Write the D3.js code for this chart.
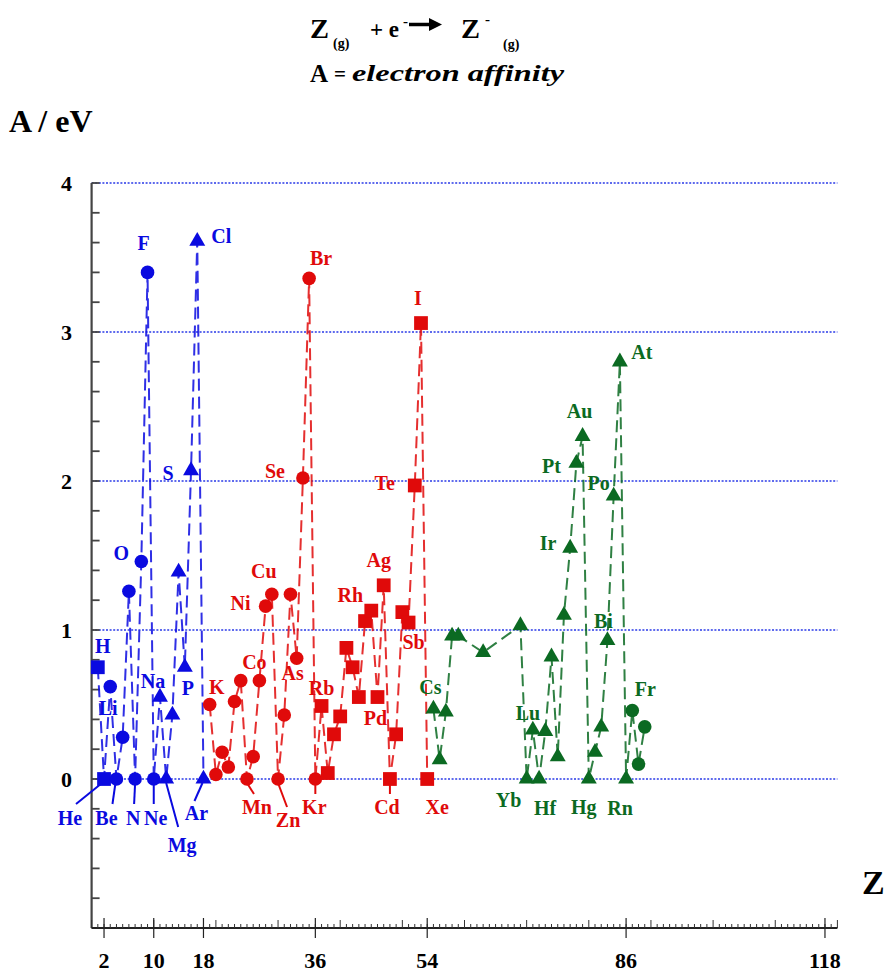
<!DOCTYPE html>
<html><head><meta charset="utf-8">
<script src="https://cdn.jsdelivr.net/npm/d3@7"></script>
<style>
body{margin:0;background:#fff}
svg{display:block}
text{font-family:"Liberation Serif","Times New Roman",serif;font-weight:bold}
</style>
</head><body>
<svg id="chart" width="890" height="972"></svg>
<script>
// Element symbols, Z = 1..89
const symbols = ["H","He","Li","Be","B","C","N","O","F","Ne","Na","Mg","Al","Si","P","S","Cl","Ar",
  "K","Ca","Sc","Ti","V","Cr","Mn","Fe","Co","Ni","Cu","Zn","Ga","Ge","As","Se","Br","Kr",
  "Rb","Sr","Y","Zr","Nb","Mo","Tc","Ru","Rh","Pd","Ag","Cd","In","Sn","Sb","Te","I","Xe",
  "Cs","Ba","La","Ce","Pr","Nd","Pm","Sm","Eu","Gd","Tb","Dy","Ho","Er","Tm","Yb","Lu","Hf",
  "Ta","W","Re","Os","Ir","Pt","Au","Hg","Tl","Pb","Bi","Po","At","Rn","Fr","Ra","Ac"];

// Periods 1-3
const zLight  = d3.range(1, 19);
const eaLight = [0.75,0,0.62,0,0.28,1.26,0,1.46,3.40,0,0.55,0,0.43,1.39,0.75,2.07,3.61,0];

// Periods 4-5
const zMiddle  = d3.range(19, 55);
const eaMiddle = [0.50,0.03,0.18,0.08,0.52,0.66,0,0.15,0.66,1.16,1.24,0,0.43,1.24,0.81,2.02,3.36,0,
                  0.49,0.04,0.30,0.42,0.88,0.75,0.55,1.06,1.13,0.55,1.30,0,0.30,1.12,1.05,1.97,3.06,0];

// Periods 6-7 (elements with known values)
const zHeavy  = [55,56,57,58,59,63,69,70,71,72,73,74,75,76,77,78,79,80,81,82,83,84,85,86,87,88,89];
const eaHeavy = [0.47,0.13,0.45,0.96,0.96,0.85,1.03,0,0.33,0,0.32,0.82,0.15,1.10,1.55,2.12,2.30,
                 0,0.18,0.35,0.93,1.90,2.80,0,0.46,0.10,0.35];

// Axis ticks
const xTickLabels = [2,10,18,36,54,86,118];
const yTickLabels = [0,1,2,3,4];

// Marker shape per period (1..7)
const periodEnds   = [2,10,18,36,54,86,118];
const periodShapes = ["square","circle","triangle","circle","square","triangle","circle"];

const series = [
  {z: zLight,  ea: eaLight,  color: "#0a0ae0"},
  {z: zMiddle, ea: eaMiddle, color: "#e00a0a"},
  {z: zHeavy,  ea: eaHeavy,  color: "#0b6a22"}
];

// Label placement: [dx, dy] from the marker, optional leader [x1,y1,x2,y2]
const labelLayout = {
  H:[5,-21], He:[-34,39,[-2,4,-28,25]], Li:[-2,21], Be:[-10,39,[-1,4,-4,25]], N:[-2,39,[0,4,-1,25]],
  O:[-20,-8], F:[-4,-29], Ne:[2,39,[0,4,0,25]], Na:[-7,-16], Mg:[16,66,[0,4,12,48]], P:[3,21],
  S:[-23,2], Cl:[24,-5], Ar:[-7,34,[-1,4,-9,22]],
  K:[7,-18], Mn:[10,28,[0,4,7,15]], Co:[-5,-19], Ni:[-25,-3], Cu:[-8,-23], Zn:[10,41,[0,4,9,28]],
  As:[-4,15], Se:[-28,-7], Br:[12,-20], Kr:[-1,28,[0,4,0,15]],
  Rb:[0,-18], Rh:[-21,-16], Pd:[-2,21], Ag:[-5,-25], Cd:[-3,28,[0,4,0,15]], Sb:[5,19],
  Te:[-30,-2], I:[-3,-25], Xe:[10,28],
  Cs:[-3,-22], Yb:[-18,21], Lu:[-5,-17], Hf:[6,29], Ir:[-22,-5], Pt:[-25,3], Au:[-3,-25],
  Hg:[-5,28], Bi:[-4,-19], Po:[-15,-13], At:[22,-10], Rn:[-6,29], Fr:[13,-21]
};

const svg = d3.select("#chart");
const x = d3.scaleLinear().domain([0,120]).range([91.6, 837.4]);
const y = d3.scaleLinear().domain([-1,4]).range([928, 183]);

// Reaction equation
const eq = svg.append("g").attr("fill", "#000");
const put = (tx, ty, size, str, extra) => {
  const t = eq.append("text").attr("x", tx).attr("y", ty).attr("font-size", size).text(str);
  if (extra) extra(t);
  return t;
};
put(310, 38, 27, "Z", t => t.attr("textLength", 19).attr("lengthAdjust","spacingAndGlyphs"));
put(333, 48, 14, "(g)");
put(370, 37, 23, "+ e");
put(403, 26, 15, "-");
eq.append("path").attr("d", "M409,24.5 H431").attr("stroke", "#000").attr("stroke-width", 3.5);
eq.append("path").attr("d", "M429,18 L442,24.5 L429,31 Z");
put(461, 38, 27, "Z", t => t.attr("textLength", 19).attr("lengthAdjust","spacingAndGlyphs"));
put(485, 24, 15, "-");
put(503, 49, 14, "(g)");
put(310, 82, 25, "A");
put(334, 81, 21, "=");
put(352, 81, 23, "electron affinity", t => t.attr("font-style","italic")
  .attr("textLength", 212).attr("lengthAdjust","spacingAndGlyphs"));

// Axis titles
svg.append("text").attr("x", 9).attr("y", 132).attr("font-size", 32).text("A / eV");
svg.append("text").attr("x", 862).attr("y", 894).attr("font-size", 34).text("Z");

// Horizontal grid lines
svg.append("g").selectAll("line").data(yTickLabels).join("line")
  .attr("x1", x(0)).attr("x2", x(120))
  .attr("y1", d => y(d)).attr("y2", d => y(d))
  .attr("stroke", "#2a3ae8").attr("stroke-width", 1.6).attr("stroke-dasharray", "2,1.6");

// Y axis
const yAxisG = svg.append("g").attr("transform", `translate(${x(0)},0)`);
yAxisG.append("line").attr("y1", y(4)).attr("y2", y(-1)).attr("stroke", "#444").attr("stroke-width", 2.2);
yAxisG.selectAll("line.minor").data(d3.range(-1, 4.001, 0.2)).join("line").attr("class","minor")
  .attr("x1", 0).attr("x2", 8).attr("y1", d => y(d)).attr("y2", d => y(d))
  .attr("stroke", "#444").attr("stroke-width", 1.8);
yAxisG.selectAll("text").data(yTickLabels).join("text")
  .attr("x", -25).attr("y", d => y(d)).attr("dy", "0.35em").attr("text-anchor","middle")
  .attr("font-size", 22).text(d => d);

// X axis
const xAxisG = svg.append("g").attr("transform", `translate(0,${y(-1)})`);
xAxisG.append("line").attr("x1", x(0)).attr("x2", x(120)).attr("stroke", "#222").attr("stroke-width", 2);
xAxisG.selectAll("line.minor").data(d3.range(0, 121, 1)).join("line").attr("class","minor")
  .attr("x1", d => x(d)).attr("x2", d => x(d))
  .attr("y1", 0).attr("y2", d => d % 10 === 0 ? -8 : -4)
  .attr("stroke", "#333").attr("stroke-width", 1);
xAxisG.selectAll("line.major").data(xTickLabels).join("line").attr("class","major")
  .attr("x1", d => x(d)).attr("x2", d => x(d)).attr("y1", -10).attr("y2", 10)
  .attr("stroke", "#222").attr("stroke-width", 1.2);
xAxisG.selectAll("text").data(xTickLabels).join("text")
  .attr("x", d => x(d)).attr("y", 40).attr("text-anchor","middle")
  .attr("font-size", 22).text(d => d);

// Connecting dashed lines
const line = d3.line().x(d => x(d[0])).y(d => y(d[1]));
series.forEach(s => {
  svg.append("path").datum(s.z.map((z,i) => [z, s.ea[i]]))
    .attr("d", line).attr("fill","none")
    .attr("stroke", s.color).attr("stroke-opacity", 0.85)
    .attr("stroke-width", 2).attr("stroke-dasharray", "12,6");
});

// Markers
const shapeOf = z => periodShapes[periodEnds.findIndex(e => z <= e)];
const symbolFor = {square: d3.symbolSquare, circle: d3.symbolCircle, triangle: d3.symbolTriangle};
const sizeFor = {square: 190, circle: 145, triangle: 110};
series.forEach(s => {
  svg.append("g").selectAll("path").data(s.z.map((z,i) => [z, s.ea[i]])).join("path")
    .attr("transform", d => `translate(${x(d[0])},${y(d[1])})`)
    .attr("d", d => d3.symbol().type(symbolFor[shapeOf(d[0])]).size(sizeFor[shapeOf(d[0])])())
    .attr("fill", s.color);
});

// Element labels
series.forEach(s => {
  s.z.forEach((z,i) => {
    const sym = symbols[z-1];
    const lay = labelLayout[sym];
    if (!lay) return;
    const px = x(z), py = y(s.ea[i]);
    if (lay[2]) {
      const [a,b,c,d] = lay[2];
      svg.append("line").attr("x1", px+a).attr("y1", py+b).attr("x2", px+c).attr("y2", py+d)
        .attr("stroke", s.color).attr("stroke-width", 2);
    }
    svg.append("text").attr("x", px + lay[0]).attr("y", py + lay[1]).attr("dy","0.35em")
      .attr("text-anchor","middle").attr("font-size", 20).attr("fill", s.color).text(sym);
  });
});
</script>
</body></html>
